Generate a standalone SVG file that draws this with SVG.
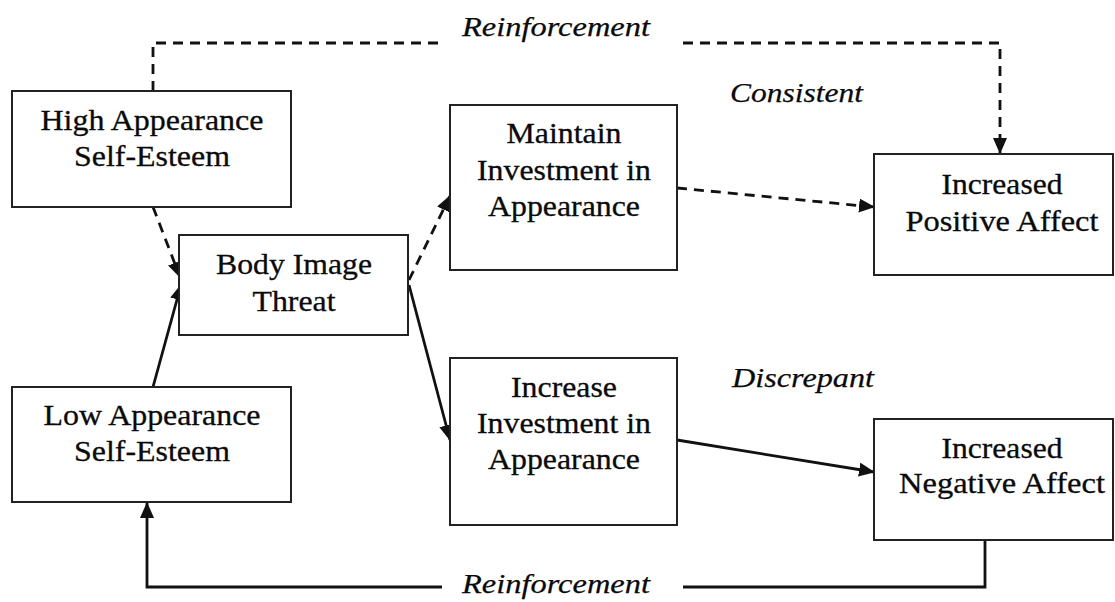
<svg xmlns="http://www.w3.org/2000/svg" width="1115" height="602" viewBox="0 0 1115 602">
  <style>
    .box { fill: #ffffff; stroke: #222222; stroke-width: 2; }
    .t { font-family: "Liberation Serif", "Times New Roman", serif; font-size: 30px; fill: #0a0a0a; stroke: #0a0a0a; stroke-width: 0.3; text-anchor: middle; }
    .lbl { font-family: "Liberation Serif", "Times New Roman", serif; font-size: 28px; font-style: italic; fill: #0a0a0a; stroke: #0a0a0a; stroke-width: 0.25; }
    .solid { fill: none; stroke: #111111; stroke-width: 2.8; }
    .dash { fill: none; stroke: #111111; stroke-width: 2.8; stroke-dasharray: 10 7; }
  </style>
  <defs>
    <marker id="arrow" markerUnits="userSpaceOnUse" markerWidth="16" markerHeight="14" refX="15" refY="7" orient="auto">
      <path d="M0,0 L16,7 L0,14 z" fill="#111111"/>
    </marker>
  </defs>

  <rect width="1115" height="602" fill="#ffffff"/>

  <!-- connectors -->
  <g id="connectors">
    <!-- upper reinforcement loop -->
    <path class="dash" d="M153,91 V43 H442"/>
    <path class="dash" d="M683,43 H1000 V153" marker-end="url(#arrow)"/>
    <!-- into body image threat -->
    <path class="dash" d="M153,207 L180,277" marker-end="url(#arrow)"/>
    <path class="solid" d="M153,387 L181,285" marker-end="url(#arrow)"/>
    <!-- out of body image threat -->
    <path class="dash" d="M409,280 L450,196" marker-end="url(#arrow)"/>
    <path class="solid" d="M409,285 L450,440" marker-end="url(#arrow)"/>
    <!-- to affect outcomes -->
    <path class="dash" d="M677,188 L874,207" marker-end="url(#arrow)"/>
    <path class="solid" d="M677,440 L874,472" marker-end="url(#arrow)"/>
    <!-- lower reinforcement loop -->
    <path class="solid" d="M985,540 V587 H683"/>
    <path class="solid" d="M442,587 H147 V503" marker-end="url(#arrow)"/>
  </g>

  <!-- edge labels -->
  <g id="labels">
    <text class="lbl" x="462" y="36" textLength="188" lengthAdjust="spacingAndGlyphs">Reinforcement</text>
    <text class="lbl" x="730" y="102" textLength="133" lengthAdjust="spacingAndGlyphs">Consistent</text>
    <text class="lbl" x="732" y="387" textLength="142" lengthAdjust="spacingAndGlyphs">Discrepant</text>
    <text class="lbl" x="462" y="593" textLength="188" lengthAdjust="spacingAndGlyphs">Reinforcement</text>
  </g>

  <g id="high-ase">
    <rect class="box" x="12" y="91" width="279" height="116"/>
    <text class="t" x="152" y="130" textLength="223" lengthAdjust="spacingAndGlyphs">High Appearance</text>
    <text class="t" x="152" y="166" textLength="156" lengthAdjust="spacingAndGlyphs">Self-Esteem</text>
  </g>

  <g id="body-image-threat">
    <rect class="box" x="179" y="235" width="229" height="100"/>
    <text class="t" x="294" y="274" textLength="156" lengthAdjust="spacingAndGlyphs">Body Image</text>
    <text class="t" x="294" y="311" textLength="83" lengthAdjust="spacingAndGlyphs">Threat</text>
  </g>

  <g id="low-ase">
    <rect class="box" x="12" y="387" width="279" height="115"/>
    <text class="t" x="152" y="425" textLength="217" lengthAdjust="spacingAndGlyphs">Low Appearance</text>
    <text class="t" x="152" y="461" textLength="156" lengthAdjust="spacingAndGlyphs">Self-Esteem</text>
  </g>

  <g id="maintain-investment">
    <rect class="box" x="450" y="105" width="227" height="165"/>
    <text class="t" x="564" y="143" textLength="115" lengthAdjust="spacingAndGlyphs">Maintain</text>
    <text class="t" x="564" y="180" textLength="174" lengthAdjust="spacingAndGlyphs">Investment in</text>
    <text class="t" x="564" y="216" textLength="152" lengthAdjust="spacingAndGlyphs">Appearance</text>
  </g>

  <g id="increase-investment">
    <rect class="box" x="450" y="358" width="227" height="167"/>
    <text class="t" x="564" y="397" textLength="106" lengthAdjust="spacingAndGlyphs">Increase</text>
    <text class="t" x="564" y="433" textLength="174" lengthAdjust="spacingAndGlyphs">Investment in</text>
    <text class="t" x="564" y="469" textLength="152" lengthAdjust="spacingAndGlyphs">Appearance</text>
  </g>

  <g id="positive-affect">
    <rect class="box" x="874" y="154" width="239" height="121"/>
    <text class="t" x="1002" y="194" textLength="121" lengthAdjust="spacingAndGlyphs">Increased</text>
    <text class="t" x="1002" y="231" textLength="193" lengthAdjust="spacingAndGlyphs">Positive Affect</text>
  </g>

  <g id="negative-affect">
    <rect class="box" x="874" y="419" width="239" height="121"/>
    <text class="t" x="1002" y="458" textLength="121" lengthAdjust="spacingAndGlyphs">Increased</text>
    <text class="t" x="1002" y="493" textLength="206" lengthAdjust="spacingAndGlyphs">Negative Affect</text>
  </g>
</svg>
